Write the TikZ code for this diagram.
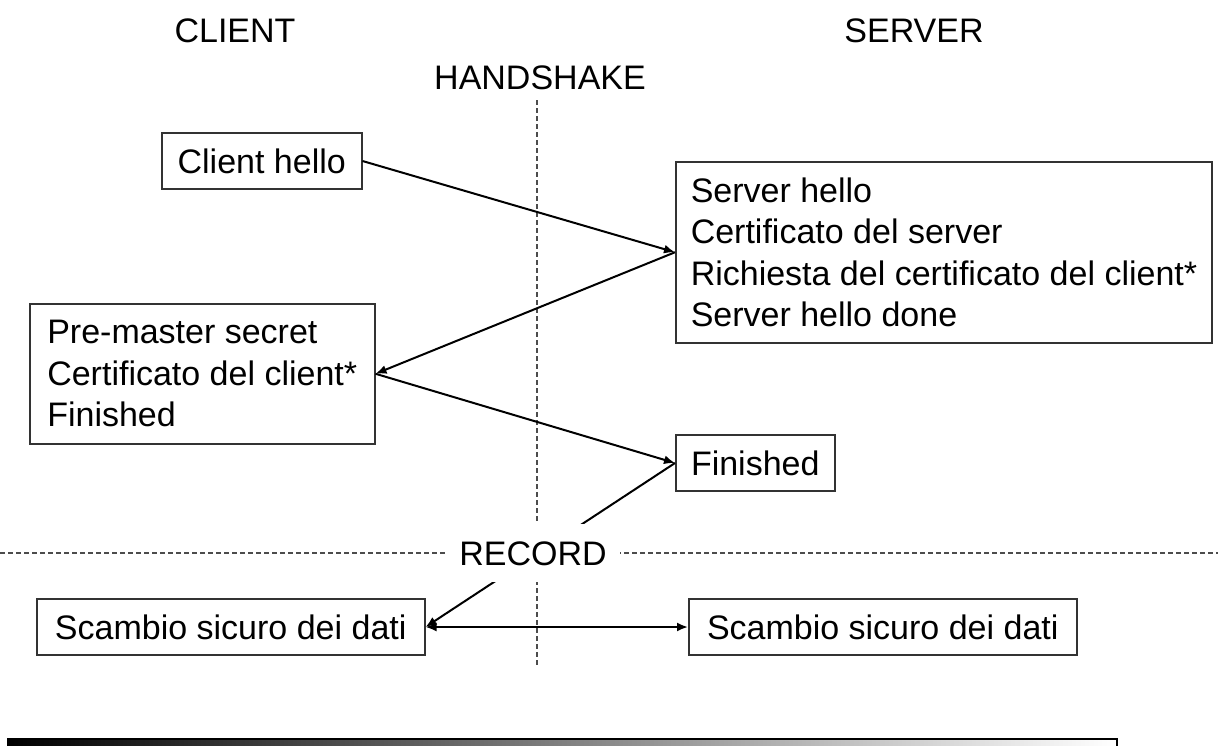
\documentclass[tikz,border=0pt]{standalone}
\usepackage{fontspec}
\setmainfont{Liberation Sans}
\usetikzlibrary{arrows.meta}
\begin{document}
\begin{tikzpicture}[x=0.5pt,y=-0.5pt,
  every node/.style={font=\fontsize{17pt}{20.8pt}\selectfont},
  box/.style={draw=black!80, line width=0.75pt, inner xsep=7.5pt, align=left},
  sbox/.style={box, text height=14pt, text depth=2pt, inner ysep=6pt},
  mbox/.style={box, inner ysep=0pt},
  tip/.style={Latex[length=5.5pt,width=4.5pt]},
  conn/.style={line width=1pt, -{Latex[length=5.5pt,width=4.5pt]}},
  sep/.style={draw=black!70, line width=0.7pt, dash pattern=on 2.5pt off 1.5pt}
]
\useasboundingbox (0,0) rectangle (1224,745);

% headers
\node (client) at (235,31) {CLIENT};
\node (server) at (914,31) {SERVER};
\node (hs) at (540,78) {HANDSHAKE};

% boxes
\node[sbox, minimum width=100pt, anchor=west] (ch) at (161,161) {Client hello};
\node[mbox, minimum height=90.5pt, anchor=north west] (srv) at (675,161)
  {Server hello\\Certificato del server\\Richiesta del certificato del client*\\Server hello done};
\node[mbox, minimum width=172.5pt, minimum height=70pt, anchor=north west] (pm) at (29,303)
  {Pre-master secret\\Certificato del client*\\Finished};
\node[sbox, minimum width=79.5pt, anchor=west] (fin) at (675,463) {Finished};
\node[sbox, minimum width=194pt, anchor=west] (sc1) at (36,627) {Scambio sicuro dei dati};
\node[sbox, minimum width=194pt, anchor=west] (sc2) at (688,627) {Scambio sicuro dei dati};

% separators
\coordinate (vtop) at (537,100);
\coordinate (vbot) at (537,667);
\coordinate (hl) at (0,553);
\coordinate (hr) at (1218,553);
\draw[sep] (vtop) -- (vbot);
\draw[sep] (hl) -- (hr);

% connectors
\draw[conn] (ch.east) -- (srv.west);
\draw[conn] (srv.west) -- (pm.east);
\draw[conn] (pm.east) -- (fin.west);
\draw[conn] (fin.west) -- (sc1.east);
\draw[line width=1pt, {Latex[length=5.5pt,width=4.5pt]}-{Latex[length=5.5pt,width=4.5pt]}] (sc1.east) -- (sc2.west);

% record label
\node[fill=white, inner xsep=6.5pt, inner ysep=6.5pt, text height=14pt, text depth=2pt] (rec) at (533,553) {RECORD};

% bottom bar
\shade[left color=black, right color=white] (7,739) rectangle (1117,760);
\draw[line width=1pt] (7,739) -- (1117,739) -- (1117,760);
\end{tikzpicture}
\end{document}
